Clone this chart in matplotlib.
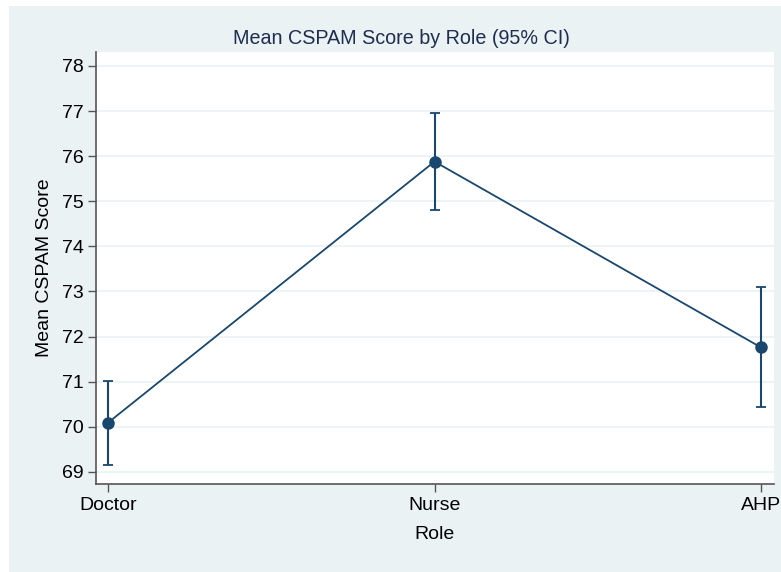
import matplotlib
matplotlib.use("Agg")
import matplotlib.pyplot as plt
from matplotlib.patches import Rectangle

# Mean CSPAM score by role, with 95% confidence limits
roles = ["Doctor", "Nurse", "AHP"]
means = [70.09, 75.88, 71.76]
ci_low = [69.15, 74.81, 70.43]
ci_high = [71.02, 76.95, 73.10]
yticks = [69, 70, 71, 72, 73, 74, 75, 76, 77, 78]

navy = "#1a476f"
bg = "#eaf2f3"
W, H = 781, 572

plt.rcParams["font.family"] = ["Liberation Sans", "DejaVu Sans"]

fig = plt.figure(figsize=(W / 100, H / 100), dpi=100, facecolor="white")
# Stata-like graph region
fig.patches.append(Rectangle((9 / W, 0), 1 - 9 / W, 1 - 6 / H,
                             transform=fig.transFigure, facecolor=bg,
                             edgecolor="none", zorder=-10))

ax = fig.add_axes([96 / W, 1 - 484 / H, (774 - 96) / W, (484 - 52) / H])
ax.set_facecolor("white")

x = list(range(len(roles)))
yerr = [[m - lo for m, lo in zip(means, ci_low)],
        [hi - m for m, hi in zip(means, ci_high)]]
ax.errorbar(x, means, yerr=yerr, fmt="none", ecolor=navy, elinewidth=1.5,
            capsize=3.8, capthick=1.3, zorder=3)
ax.plot(x, means, color=navy, linewidth=1.3, marker="o", markersize=8,
        zorder=4)

ax.set_xlim(-0.037, 2.04)
ax.set_ylim(68.73, 78.31)
ax.set_xticks(x)
ax.set_xticklabels(roles)
ax.set_yticks(yticks)
ax.tick_params(axis="both", labelsize=14, length=6, width=1, color="#555555",
               pad=3)
ax.grid(axis="y", color=bg, linewidth=1.2)
ax.set_axisbelow(True)

for side in ["top", "right"]:
    ax.spines[side].set_visible(False)
for side in ["left", "bottom"]:
    ax.spines[side].set_color("#555555")
    ax.spines[side].set_linewidth(1.2)

ax.set_xlabel("Role", fontsize=14, labelpad=9)
ax.set_ylabel("Mean CSPAM Score", fontsize=14, labelpad=6)
fig.text(401 / W, 1 - 38 / H, "Mean CSPAM Score by Role (95% CI)",
         ha="center", va="center", fontsize=14.2, color="#1e2d50")

fig.savefig("out.png", dpi=100, facecolor="white")
